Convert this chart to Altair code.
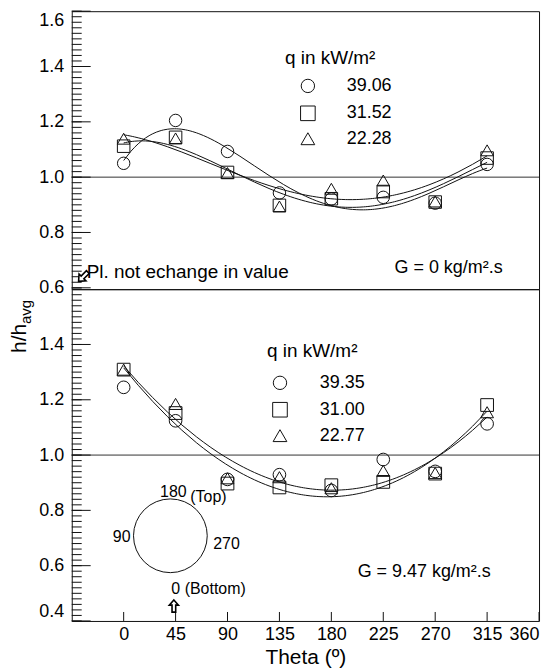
import altair as alt
import pandas as pd

# Circumferential position around the tube (degrees from bottom)
theta = [0, 45, 90, 135, 180, 225, 270, 315]

# G = 0 kg/m2.s : local / average heat transfer coefficient
top_q = ["39.06", "31.52", "22.28"]
top_h_39_06 = [1.050, 1.205, 1.093, 0.943, 0.921, 0.927, 0.906, 1.046]
top_h_31_52 = [1.112, 1.144, 1.017, 0.898, 0.922, 0.948, 0.910, 1.069]
top_h_22_28 = [1.139, 1.140, 1.015, 0.894, 0.958, 0.988, 0.912, 1.097]

# G = 9.47 kg/m2.s
bot_q = ["39.35", "31.00", "22.77"]
bot_h_39_35 = [1.245, 1.124, 0.912, 0.929, 0.872, 0.984, 0.941, 1.113]
bot_h_31_00 = [1.309, 1.152, 0.897, 0.883, 0.891, 0.903, 0.933, 1.181]
bot_h_22_77 = [1.309, 1.185, 0.916, 0.920, 0.880, 0.943, 0.935, 1.155]

# series that carry a fitted curve in each panel
top_fitted = ["39.06", "31.52", "22.28"]
bot_fitted = ["31.00", "22.77"]

x_ticks = [0, 45, 90, 135, 180, 225, 270, 315, 360]
top_y_ticks = [0.6, 0.8, 1.0, 1.2, 1.4, 1.6]
bot_y_ticks = [0.4, 0.6, 0.8, 1.0, 1.2, 1.4]

shapes = ["circle", "square", "triangle-up"]
marker_sizes = [156, 165, 150]
legend_sizes = [180, 215, 190]

# hollow block arrow, pointing up in unit coordinates
ARROW = "M0,-1L0.75,-0.15L0.3,-0.15L0.3,1L-0.3,1L-0.3,-0.15L-0.75,-0.15Z"

FONT = "Liberation Sans"
INK = "#111111"
TXT = 18
W = 469
PX_PER_UNIT = 277.5
TOP_DOMAIN = [0.595, 1.6]
BOT_DOMAIN = [0.4, 1.6]
H_TOP = round((TOP_DOMAIN[1] - TOP_DOMAIN[0]) * PX_PER_UNIT)
H_BOT = round((BOT_DOMAIN[1] - BOT_DOMAIN[0]) * PX_PER_UNIT)


def series_frame(q_list, columns):
    rows = []
    for q, hs in zip(q_list, columns):
        for t, h in zip(theta, hs):
            rows.append({"theta": t, "h": h, "q": q})
    return pd.DataFrame(rows)


def label(txt, x, y, size=TXT, align="left", baseline="alphabetic", angle=None, font=FONT):
    kw = {}
    if angle is not None:
        kw["angle"] = angle
    return alt.Chart(pd.DataFrame({"label": [txt]})).mark_text(
        align=align, baseline=baseline, fontSize=size, font=font, color="black", **kw
    ).encode(text="label:N", x=alt.value(x), y=alt.value(y))


def arrow(x, y, angle, size):
    return alt.Chart(pd.DataFrame({"a": [0]})).mark_point(
        shape=ARROW, size=size, angle=angle, filled=True, fill="white",
        stroke="black", strokeWidth=1.6, opacity=1
    ).encode(x=alt.value(x), y=alt.value(y))


def panel(df, q_list, fitted, y_domain, y_ticks, height, order, legend, show_x_axis, extras):
    if show_x_axis:
        x_axis = alt.Axis(values=x_ticks, ticks=False, domain=False, grid=False,
                          labelFontSize=TXT, labelPadding=5, labelFlush=True,
                          title="Theta (º)", titleFontSize=21, titleFontWeight="normal",
                          titlePadding=3)
    else:
        x_axis = None
    x_enc = alt.X("theta:Q", scale=alt.Scale(domain=[-45, 360], nice=False, zero=False),
                  axis=x_axis)
    y_enc = alt.Y("h:Q", scale=alt.Scale(domain=y_domain, nice=False, zero=False),
                  axis=alt.Axis(values=y_ticks, ticks=False, domain=False, grid=False,
                                labelFlush=True, labelPadding=8, labelFontSize=TXT,
                                format=".1f", title=None))

    # reference line at h/h_avg = 1
    unity = alt.Chart(pd.DataFrame({"h": [1.0]})).mark_rule(
        color="#333333", strokeWidth=1).encode(y=y_enc)

    # inward y ticks: majors every 0.2, minors every 0.02
    lo, hi = y_domain
    minor_vals = [round(0.4 + 0.02 * i, 2) for i in range(61)]
    minor_vals = [v for v in minor_vals if lo <= v <= hi]
    minor = alt.Chart(pd.DataFrame({"h": minor_vals})).mark_rule(
        color=INK, strokeWidth=1).encode(y=y_enc, x=alt.value(0), x2=alt.value(10))
    major = alt.Chart(pd.DataFrame({"h": y_ticks})).mark_rule(
        color=INK, strokeWidth=1).encode(y=y_enc, x=alt.value(0), x2=alt.value(19))

    fits = alt.Chart(df[df["q"].isin(fitted)]).transform_regression(
        "theta", "h", groupby=["q"], method="poly", order=order, extent=[0, 315]
    ).mark_line(color=INK, strokeWidth=1).encode(x=x_enc, y=y_enc, detail="q:N")

    points = alt.Chart(df).mark_point(filled=False, color=INK, strokeWidth=1, opacity=1).encode(
        x=x_enc, y=y_enc,
        shape=alt.Shape("q:N", scale=alt.Scale(domain=q_list, range=shapes), legend=None),
        size=alt.Size("q:N", scale=alt.Scale(domain=q_list, range=marker_sizes), legend=None),
    )

    layers = [unity, minor, major, fits, points]

    if show_x_axis:
        xt = alt.Chart(pd.DataFrame({"theta": x_ticks})).mark_rule(
            color=INK, strokeWidth=1).encode(x=x_enc, y=alt.value(height), y2=alt.value(height - 9))
        layers.append(xt)

    # hand-placed legend block
    hx, hy, sx, tx, rows = legend
    layers.append(label("q in kW/m²", hx, hy, size=19))
    for i, q in enumerate(q_list):
        layers.append(
            alt.Chart(pd.DataFrame({"q": [q]})).mark_point(
                filled=False, color=INK, strokeWidth=1, opacity=1,
                shape=shapes[i], size=legend_sizes[i]
            ).encode(x=alt.value(sx), y=alt.value(rows[i]))
        )
        layers.append(
            alt.Chart(pd.DataFrame({"q": [q]})).mark_text(
                align="left", baseline="middle", fontSize=TXT, font=FONT, color="black"
            ).encode(text="q:N", x=alt.value(tx), y=alt.value(rows[i]))
        )

    layers.extend(extras)
    return alt.layer(*layers).properties(width=W, height=height)


top_df = series_frame(top_q, [top_h_39_06, top_h_31_52, top_h_22_28])
bot_df = series_frame(bot_q, [bot_h_39_35, bot_h_31_00, bot_h_22_77])

top_extras = [
    label("G = 0 kg/m².s", 324, 263),
    label("Pl. not echange in value", 15, 268, size=19),
    arrow(11.5, 266.5, 225, 170),
]

bot_extras = [
    label("G = 9.47 kg/m².s", 287, 289),
    # tube cross-section sketch
    alt.Chart(pd.DataFrame({"a": [0]})).mark_point(
        shape="circle", size=5476, filled=False, color=INK, strokeWidth=1, opacity=1
    ).encode(x=alt.value(99), y=alt.value(247.5)),
    label("180", 102, 209, size=16, align="center"),
    label("(Top)", 119, 214, size=16),
    label("90", 59, 254, size=16, align="right"),
    label("270", 142, 261, size=16),
    label("0 (Bottom)", 100, 306, size=16),
    arrow(102.5, 318, 0, 150),
    # y-axis title with subscript
    label("h/h", -46, 64, size=21, angle=270),
    label("avg", -41, 35, size=15, angle=270),
]

top = panel(top_df, top_q, top_fitted, TOP_DOMAIN, top_y_ticks, H_TOP, 4,
            (214, 53, 237, 276, [75, 102.5, 128]), False, top_extras)
bottom = panel(bot_df, bot_q, bot_fitted, BOT_DOMAIN, bot_y_ticks, H_BOT, 3,
               (196, 68, 209, 249, [94, 121, 147]), True, bot_extras)

chart = alt.vconcat(top, bottom, spacing=0, bounds="flush").properties(
    padding={"left": 8, "top": 9, "right": 8, "bottom": 5}
).configure_view(
    stroke=INK, strokeWidth=1
).configure_axis(
    labelFont=FONT, titleFont=FONT, labelColor="black", titleColor="black"
)

chart.save("out.html", embed_options={"renderer": "svg", "actions": False})
